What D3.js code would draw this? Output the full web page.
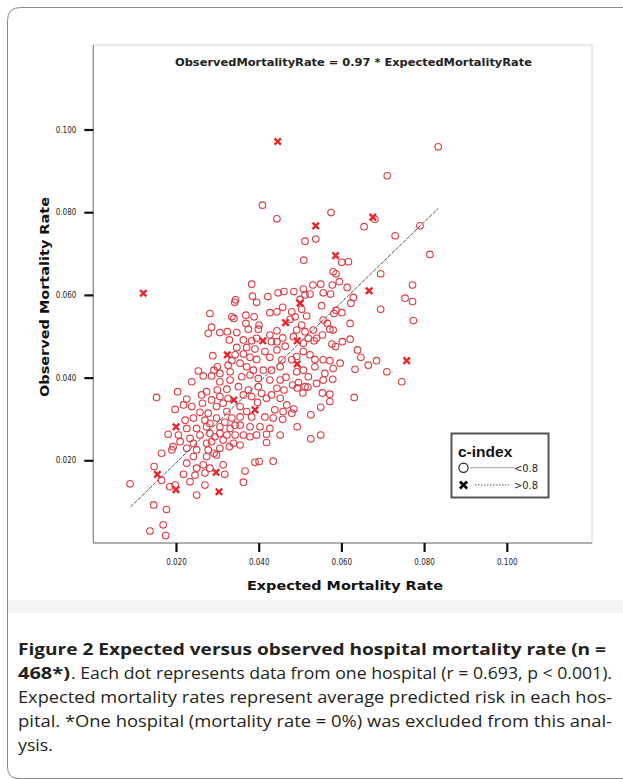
<!DOCTYPE html>
<html lang="en">
<head>
  <meta charset="UTF-8">
  <title>Figure 2</title>
  <style>
    body { margin: 0; background: #fff; }
    svg { display: block; }
  </style>
</head>
<body>

  <svg id="svg" width="623" height="779"></svg>

  <script src="https://d3js.org/d3.v7.min.js"></script>
  <script>

    // hospitals with c-index < 0.8 (open circles)
    const expectedLow = [
      0.0089,0.0146,0.0177,0.0169,0.0137,0.0175,0.0165,
      0.0153,0.0204,0.0226,0.0262,0.0274,0.0300,0.0323,0.0351,0.0375,0.0399,0.0444,0.0461,
      0.0264,0.0238,0.0198,0.0258,0.0278,0.0298,0.0355,0.0397,0.0419,0.0439,0.0459,0.0468,
      0.0323,0.0355,0.0383,0.0415,0.0435,0.0458,0.0222,0.0242,0.0270,0.0298,0.0318,0.0335,
      0.0226,0.0250,0.0274,0.0306,0.0331,0.0355,0.0379,0.0403,0.0427,
      0.0181,0.0206,0.0234,0.0258,0.0282,0.0306,0.0343,0.0363,0.0395,0.0419,0.0452,
      0.0210,0.0242,0.0274,0.0286,0.0314,0.0339,0.0379,
      0.0193,0.0226,0.0250,0.0278,0.0292,0.0306,0.0329,0.0355,0.0419,
      0.0165,0.0190,0.0242,0.0274,0.0298,0.0391,0.0401,0.0435,
      0.0147,0.0226,0.0250,0.0266,0.0282,0.0314,0.0318,0.0367,0.0218,0.0246,0.0270,
      0.0185,0.0198,0.0234,0.0270,0.0363,0.0250,
      0.0363,0.0383,0.0407,0.0431,0.0452,0.0326,0.0306,0.0286,0.0218,0.0314,0.0371,0.0282,0.0343,0.0294,0.0323,
      0.0383,0.0447,0.0461,0.0422,0.0385,0.0344,0.0342,0.0395,0.0458,0.0444,
      0.0427,0.0282,0.0335,0.0340,0.0369,0.0389,0.0369,0.0401,0.0399,0.0286,
      0.0278,0.0306,0.0324,0.0347,0.0375,0.0427,0.0444,0.0431,0.0458,0.0329,
      0.0363,0.0383,0.0395,0.0444,0.0347,0.0371,0.0391,0.0415,0.0444,0.0464,
      0.0289,0.0343,0.0363,0.0379,0.0395,0.0427,0.0456,0.0335,0.0355,0.0371,
      0.0300,0.0292,0.0326,0.0254,0.0266,0.0238,0.0286,0.0306,0.0331,0.0387,
      0.0411,0.0431,0.0452,0.0306,0.0331,0.0359,0.0379,0.0399,0.0427,0.0452,
      0.0466,
      0.0580,0.0587,0.0695,0.0595,0.0550,0.0531,0.0508,0.0485,0.0578,0.0614,
      0.0556,0.0574,0.0524,0.0512,0.0772,0.0754,0.0772,0.0629,0.0623,0.0500,
      0.0552,0.0504,0.0480,0.0695,0.0587,0.0601,0.0582,0.0516,0.0488,0.0476,
      0.0556,0.0774,0.0621,0.0566,0.0580,0.0572,0.0504,0.0492,0.0512,0.0532,
      0.0554,0.0540,0.0520,0.0484,0.0508,0.0534,0.0577,0.0586,0.0602,0.0621,
      0.0639,0.0647,0.0685,0.0665,0.0633,0.0710,0.0746,0.0597,0.0580,0.0556,
      0.0572,0.0536,0.0524,0.0508,0.0492,0.0480,0.0536,0.0508,0.0492,0.0560,
      0.0579,0.0556,0.0520,0.0540,0.0496,0.0482,0.0512,
      0.0493,0.0519,0.0507,0.0554,0.0572,0.0572,0.0631,0.0550,0.0485,0.0480,0.0526,0.0493,0.0550,0.0526,
      0.0409,0.0444,0.0575,0.0512,0.0538,0.0509,0.0601,0.0617,
      0.0834,0.0711,0.0681,0.0655,0.0730,0.0790,0.0814
    ]
    const observedLow = [
      0.0143,0.0092,0.0081,0.0044,0.0029,0.0018,0.0152,
      0.0352,0.0366,0.0348,0.0358,0.0366,0.0370,0.0372,0.0378,0.0370,0.0378,0.0374,0.0370,
      0.0338,0.0330,0.0323,0.0316,0.0314,0.0330,0.0330,0.0340,0.0350,0.0322,0.0318,0.0334,
      0.0318,0.0305,0.0305,0.0305,0.0302,0.0299,0.0297,0.0302,0.0297,0.0302,0.0292,0.0302,
      0.0277,0.0277,0.0281,0.0281,0.0277,0.0285,0.0281,0.0281,0.0277,
      0.0263,0.0261,0.0253,0.0261,0.0265,0.0265,0.0261,0.0261,0.0261,0.0263,0.0261,
      0.0245,0.0241,0.0241,0.0245,0.0249,0.0241,0.0257,
      0.0233,0.0229,0.0225,0.0225,0.0217,0.0229,0.0233,0.0237,0.0243,
      0.0217,0.0225,0.0209,0.0209,0.0213,0.0195,0.0197,0.0198,
      0.0185,0.0193,0.0181,0.0189,0.0181,0.0189,0.0166,0.0174,0.0166,0.0164,0.0169,
      0.0136,0.0140,0.0148,0.0140,0.0147,0.0116,
      0.0358,0.0354,0.0362,0.0358,0.0350,0.0350,0.0354,0.0346,0.0334,0.0338,0.0318,0.0289,0.0285,0.0257,0.0261,
      0.0626,0.0605,0.0608,0.0596,0.0597,0.0588,0.0582,0.0582,0.0570,0.0559,
      0.0557,0.0555,0.0547,0.0543,0.0551,0.0547,0.0531,0.0527,0.0517,0.0522,
      0.0507,0.0509,0.0511,0.0509,0.0517,0.0503,0.0513,0.0487,0.0496,0.0491,
      0.0491,0.0489,0.0495,0.0487,0.0473,0.0473,0.0469,0.0463,0.0467,0.0476,
      0.0453,0.0455,0.0457,0.0449,0.0444,0.0449,0.0443,0.0441,0.0435,0.0426,
      0.0426,0.0418,0.0430,0.0416,0.0404,0.0390,0.0404,0.0410,0.0414,0.0418,
      0.0418,0.0418,0.0426,0.0390,0.0394,0.0402,0.0406,0.0398,0.0394,0.0394,
      0.0401,
      0.0656,0.0651,0.0651,0.0632,0.0626,0.0624,0.0614,0.0608,0.0624,0.0618,
      0.0605,0.0602,0.0602,0.0600,0.0624,0.0592,0.0584,0.0594,0.0580,0.0589,
      0.0574,0.0565,0.0559,0.0565,0.0563,0.0557,0.0555,0.0549,0.0547,0.0541,
      0.0539,0.0538,0.0531,0.0531,0.0515,0.0517,0.0527,0.0515,0.0511,0.0515,
      0.0503,0.0495,0.0495,0.0499,0.0483,0.0489,0.0481,0.0475,0.0487,0.0493,
      0.0467,0.0449,0.0441,0.0430,0.0420,0.0414,0.0390,0.0435,0.0422,0.0443,
      0.0441,0.0444,0.0455,0.0463,0.0451,0.0443,0.0426,0.0418,0.0414,0.0410,
      0.0396,0.0394,0.0402,0.0386,0.0388,0.0382,0.0378,
      0.0375,0.0377,0.0363,0.0363,0.0360,0.0342,0.0352,0.0328,0.0324,0.0314,0.0310,0.0281,0.0261,0.0252,
      0.0817,0.0784,0.0799,0.0730,0.0735,0.0684,0.0679,0.0680,
      0.0958,0.0888,0.0783,0.0765,0.0743,0.0767,0.0698
    ]

    // hospitals with c-index > 0.8 (crosses)
    const expectedHigh = [0.0121,0.0446,0.0538,0.0586,0.0676,0.0667,0.0500,0.0465,0.0410,0.0493,
                          0.0324,0.0758,0.0493,0.0340,0.0391,0.0200,0.0297,0.0155,0.0200,0.0304]
    const observedHigh = [0.0604,0.0971,0.0767,0.0695,0.0788,0.0610,0.0580,0.0533,0.0489,0.0489,
                          0.0455,0.0441,0.0433,0.0346,0.0322,0.0281,0.0171,0.0166,0.0129,0.0124]

    const xTicks = [0.02, 0.04, 0.06, 0.08, 0.10]
    const yTicks = [0.02, 0.04, 0.06, 0.08, 0.10]
    const fitSlope = 0.97
    const fitExtent = [0.009, 0.0834]
    const legendTitle = 'c-index'
    const legendLabels = ['<0.8', '>0.8']
    const fitLabel = 'ObservedMortalityRate = 0.97 * ExpectedMortalityRate'

    const lowPts = d3.zip(expectedLow, observedLow)
    const highPts = d3.zip(expectedHigh, observedHigh)

    const svg = d3.select('#svg')
    const red = '#dd3b43'

    // card outline
    svg.append('path')
      .attr('d', 'M630,7.5 L20.5,7.5 Q7.5,7.5 7.5,20.5 L7.5,767 Q7.5,778.5 19,778.5 L630,778.5')
      .attr('fill', 'none')
      .attr('stroke', '#8a8a8a')
      .attr('stroke-width', 1)
    svg.append('rect')
      .attr('x', 8).attr('y', 600).attr('width', 615).attr('height', 13)
      .attr('fill', '#f4f4f4')

    const xScale = d3.scaleLinear().domain([0, 0.12]).range([93.3, 589.5])
    const yScale = d3.scaleLinear().domain([0, 0.12]).range([543, 46.8])

    // plot frame
    svg.append('rect')
      .attr('x', xScale(0)).attr('y', 45)
      .attr('width', 592 - xScale(0)).attr('height', yScale(0) - 45)
      .attr('fill', 'none').attr('stroke', '#d4d4d4').attr('stroke-width', 1)
    svg.append('path')
      .attr('d', `M${xScale(0)},45 V${yScale(0)} H592`)
      .attr('fill', 'none').attr('stroke', '#777').attr('stroke-width', 1)

    const fmt = d3.format('.3f')
    const tickFont = '"Liberation Sans Narrow", "DejaVu Sans Condensed", sans-serif'

    const xAxis = svg.append('g')
      .attr('transform', `translate(0,${yScale(0)})`)
      .call(d3.axisBottom(xScale).tickValues(xTicks).tickFormat(fmt).tickSize(9).tickSizeOuter(0).tickPadding(7))
    const yAxis = svg.append('g')
      .attr('transform', `translate(${xScale(0)},0)`)
      .call(d3.axisLeft(yScale).tickValues(yTicks).tickFormat(fmt).tickSize(9).tickSizeOuter(0).tickPadding(8))

    ;[xAxis, yAxis].forEach(a => {
      a.select('.domain').remove()
      a.selectAll('.tick line').attr('stroke', '#111').attr('stroke-width', 2.2)
      a.selectAll('.tick text')
        .attr('fill', '#222')
        .style('font-family', tickFont)
        .style('font-size', '8px')
    })

    // axis titles
    svg.append('text')
      .attr('x', 345).attr('y', 590)
      .attr('text-anchor', 'middle')
      .attr('textLength', 196).attr('lengthAdjust', 'spacingAndGlyphs')
      .style('font-family', '"DejaVu Sans", sans-serif')
      .style('font-weight', 'bold').style('font-size', '13px')
      .attr('fill', '#111')
      .text('Expected Mortality Rate')
    svg.append('text')
      .attr('transform', 'translate(49,297) rotate(-90)')
      .attr('text-anchor', 'middle')
      .attr('textLength', 200).attr('lengthAdjust', 'spacingAndGlyphs')
      .style('font-family', '"DejaVu Sans", sans-serif')
      .style('font-weight', 'bold').style('font-size', '13px')
      .attr('fill', '#111')
      .text('Observed Mortality Rate')

    svg.append('text')
      .attr('x', 175).attr('y', 66)
      .attr('textLength', 357).attr('lengthAdjust', 'spacingAndGlyphs')
      .style('font-family', '"DejaVu Sans", sans-serif')
      .style('font-weight', 'bold').style('font-size', '10.5px')
      .attr('fill', '#222')
      .text(fitLabel)

    // fit line
    svg.append('line')
      .attr('x1', xScale(fitExtent[0])).attr('y1', yScale(fitSlope * fitExtent[0]))
      .attr('x2', xScale(fitExtent[1])).attr('y2', yScale(fitSlope * fitExtent[1]))
      .attr('stroke', '#444').attr('stroke-width', 0.9)
      .attr('stroke-dasharray', '4,1.2')

    // points
    svg.append('g').selectAll('circle')
      .data(lowPts)
      .enter()
      .append('circle')
      .attr('cx', d => xScale(d[0]))
      .attr('cy', d => yScale(d[1]))
      .attr('r', 3.3)
      .attr('fill', 'none')
      .attr('stroke', red)
      .attr('stroke-width', 1.1)

    svg.append('g').selectAll('path')
      .data(highPts)
      .enter()
      .append('path')
      .attr('transform', d => `translate(${xScale(d[0])},${yScale(d[1])})`)
      .attr('d', 'M-3.2,-3.2L3.2,3.2M3.2,-3.2L-3.2,3.2')
      .attr('stroke', '#e8262c')
      .attr('stroke-width', 2.4)

    // legend
    const lg = svg.append('g')
    lg.append('rect')
      .attr('x', 451.5).attr('y', 433.5).attr('width', 97).attr('height', 64)
      .attr('fill', '#fff').attr('stroke', '#555').attr('stroke-width', 2)
    lg.append('text')
      .attr('x', 458).attr('y', 456.5)
      .style('font-family', '"Liberation Sans", Arial, sans-serif')
      .style('font-weight', 'bold').style('font-size', '15.5px')
      .attr('fill', '#111')
      .text(legendTitle)
    lg.append('circle')
      .attr('cx', 463.5).attr('cy', 467.7).attr('r', 4.6)
      .attr('fill', 'none').attr('stroke', '#222').attr('stroke-width', 1.2)
    lg.append('line')
      .attr('x1', 470).attr('x2', 515).attr('y1', 467.7).attr('y2', 467.7)
      .attr('stroke', '#888').attr('stroke-width', 0.8)
    lg.append('path')
      .attr('transform', 'translate(463.5,485)')
      .attr('d', 'M-3.6,-3.6L3.6,3.6M3.6,-3.6L-3.6,3.6')
      .attr('stroke', '#111').attr('stroke-width', 2.8)
    lg.append('line')
      .attr('x1', 475).attr('x2', 509).attr('y1', 485).attr('y2', 485)
      .attr('stroke', '#444').attr('stroke-width', 0.9)
      .attr('stroke-dasharray', '1.5,1.5')
    lg.selectAll('text.lab')
      .data(legendLabels)
      .enter()
      .append('text')
      .attr('class', 'lab')
      .attr('x', 514)
      .attr('y', (d, i) => 471.5 + i * 17.5)
      .style('font-family', tickFont)
      .style('font-size', '11px')
      .attr('fill', '#222')
      .text(d => d)

    // caption
    const capFont = '"Open Sans", "Noto Sans", sans-serif'
    const captionLines = [
      { parts: [{ t: 'Figure 2 Expected versus observed hospital mortality rate (n =', b: true, x0: 18, x1: 606 }] },
      { parts: [{ t: '468*)', b: true, x0: 18, x1: 70 },
                { t: '. Each dot represents data from one hospital (r = 0.693, p < 0.001).', b: false, x0: 71, x1: 612 }] },
      { parts: [{ t: 'Expected mortality rates represent average predicted risk in each hos-', b: false, x0: 18, x1: 612 }] },
      { parts: [{ t: 'pital. *One hospital (mortality rate = 0%) was excluded from this anal-', b: false, x0: 18, x1: 612 }] },
      { parts: [{ t: 'ysis.', b: false, x0: 18, x1: 53 }] }
    ]
    captionLines.forEach((line, i) => {
      line.parts.forEach(p => {
        svg.append('text')
          .attr('x', p.x0).attr('y', 654.5 + i * 24)
          .attr('textLength', p.x1 - p.x0).attr('lengthAdjust', 'spacingAndGlyphs')
          .style('font-family', capFont)
          .style('font-size', '16px')
          .style('font-weight', p.b ? 'bold' : 'normal')
          .attr('fill', '#231f20')
          .text(p.t)
      })
    })

  </script>
</body>
</html>
